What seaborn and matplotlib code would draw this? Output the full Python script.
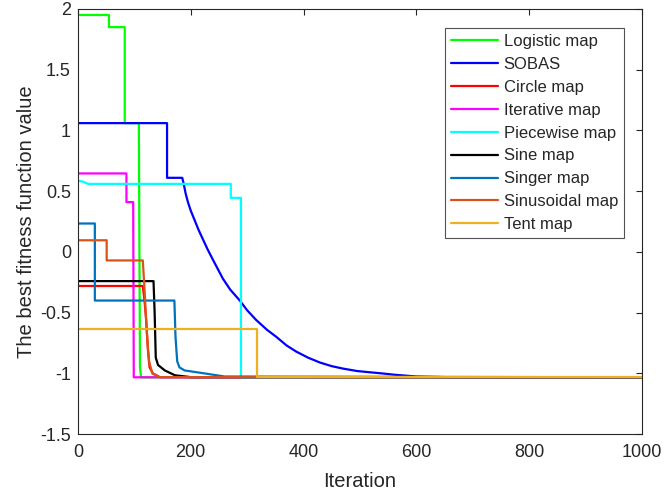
import numpy as np
import pandas as pd
import matplotlib
matplotlib.use("Agg")
import matplotlib.pyplot as plt
import seaborn as sns

# ── Données ─────────────────────────────────────────────────────────────────
F_MIN = -1.0316

logistic_it = [0, 55, 55, 83, 83, 108, 110, 112, 1000]
logistic_v  = [1.95, 1.95, 1.85, 1.85, 1.06, 1.06, -0.95, F_MIN, F_MIN]

sobas_it = [0, 158, 158, 185, 188, 191, 195, 200, 207, 214, 222, 230, 240,
            257, 270, 287, 300, 316, 335, 352, 370, 387, 408, 429, 450, 470,
            495, 517, 540, 560, 600, 650, 1000]
sobas_v  = [1.06, 1.06, 0.61, 0.61, 0.55, 0.48, 0.41, 0.34, 0.26, 0.18, 0.10,
            0.02, -0.07, -0.22, -0.31, -0.40, -0.48, -0.56, -0.64, -0.70,
            -0.77, -0.82, -0.87, -0.91, -0.94, -0.96, -0.98, -0.99, -1.0,
            -1.01, -1.025, -1.03, F_MIN]

circle_it = [0, 115, 118, 121, 124, 127, 133, 145, 1000]
circle_v  = [-0.28, -0.28, -0.40, -0.56, -0.80, -0.95, -1.0, -1.03, F_MIN]

iterative_it = [0, 86, 86, 98, 99, 1000]
iterative_v  = [0.646, 0.646, 0.41, 0.41, F_MIN, F_MIN]

piecewise_it = [0, 8, 18, 271, 271, 289, 289, 1000]
piecewise_v  = [0.585, 0.58, 0.56, 0.56, 0.445, 0.445, F_MIN, F_MIN]

sine_it = [0, 134, 136, 138, 142, 154, 172, 200, 1000]
sine_v  = [-0.24, -0.24, -0.5, -0.87, -0.93, -0.975, -1.015, -1.03, F_MIN]

singer_it = [0, 30, 30, 171, 173, 176, 180, 189, 225, 260, 1000]
singer_v  = [0.234, 0.234, -0.40, -0.40, -0.7, -0.9, -0.95, -0.975, -1.0, -1.025, F_MIN]

sinusoidal_it = [0, 51, 51, 115, 118, 122, 126, 132, 145, 1000]
sinusoidal_v  = [0.096, 0.096, -0.07, -0.07, -0.3, -0.65, -0.9, -1.0, -1.03, F_MIN]

tent_it = [0, 318, 318, 1000]
tent_v  = [-0.63, -0.63, F_MIN, F_MIN]

series = {
    "Logistic map":   (logistic_it, logistic_v),
    "SOBAS":          (sobas_it, sobas_v),
    "Circle map":     (circle_it, circle_v),
    "Iterative map":  (iterative_it, iterative_v),
    "Piecewise map":  (piecewise_it, piecewise_v),
    "Sine map":       (sine_it, sine_v),
    "Singer map":     (singer_it, singer_v),
    "Sinusoidal map": (sinusoidal_it, sinusoidal_v),
    "Tent map":       (tent_it, tent_v),
}
colors = ["#00FF00", "#0000FF", "#FF0000", "#FF00FF", "#00FFFF",
          "#000000", "#0072BD", "#D95319", "#EDB120"]

rows = []
for name, (its, vals) in series.items():
    for i, v in zip(its, vals):
        rows.append({"Iteration": i, "value": v, "map": name})
df = pd.DataFrame(rows)

# ── Tracé ───────────────────────────────────────────────────────────────────
sns.set_style("white")
plt.rcParams["font.family"] = ["Liberation Sans", "DejaVu Sans"]

fig = plt.figure(figsize=(6.66, 4.94), dpi=100)
ax = fig.add_axes([0.117, 0.121, 0.847, 0.861])

names = list(series.keys())
sns.lineplot(data=df, x="Iteration", y="value", hue="map", hue_order=names,
             palette=dict(zip(names, colors)), estimator=None, sort=False,
             units="map", linewidth=1.6, ax=ax)

ax.set_xlim(0, 1000)
ax.set_ylim(-1.5, 2)
ax.set_xticks(np.arange(0, 1001, 200))
ax.set_yticks(np.arange(-1.5, 2.01, 0.5))
ax.set_yticklabels(["-1.5", "-1", "-0.5", "0", "0.5", "1", "1.5", "2"])
ax.tick_params(direction="in", top=True, right=True, labelsize=13,
               length=4, width=0.8, colors="#262626")
ax.tick_params(axis="x", pad=7)
ax.tick_params(axis="y", pad=5)
ax.set_xlabel("Iteration", fontsize=14.5, color="#262626", labelpad=8)
ax.set_ylabel("The best fitness function value", fontsize=14.5,
              color="#262626", labelpad=3)
for s in ax.spines.values():
    s.set_visible(True)
    s.set_color("#262626")
    s.set_linewidth(0.8)

leg = ax.legend(loc="upper right", bbox_to_anchor=(0.968, 0.955), fontsize=12,
                frameon=True, fancybox=False, edgecolor="#262626",
                handlelength=2.8, labelspacing=0.475, borderpad=0.35,
                borderaxespad=0, handletextpad=0.36)
leg.get_frame().set_linewidth(0.8)
for line in leg.get_lines():
    line.set_linewidth(1.6)

fig.savefig("out.png", dpi=100)
